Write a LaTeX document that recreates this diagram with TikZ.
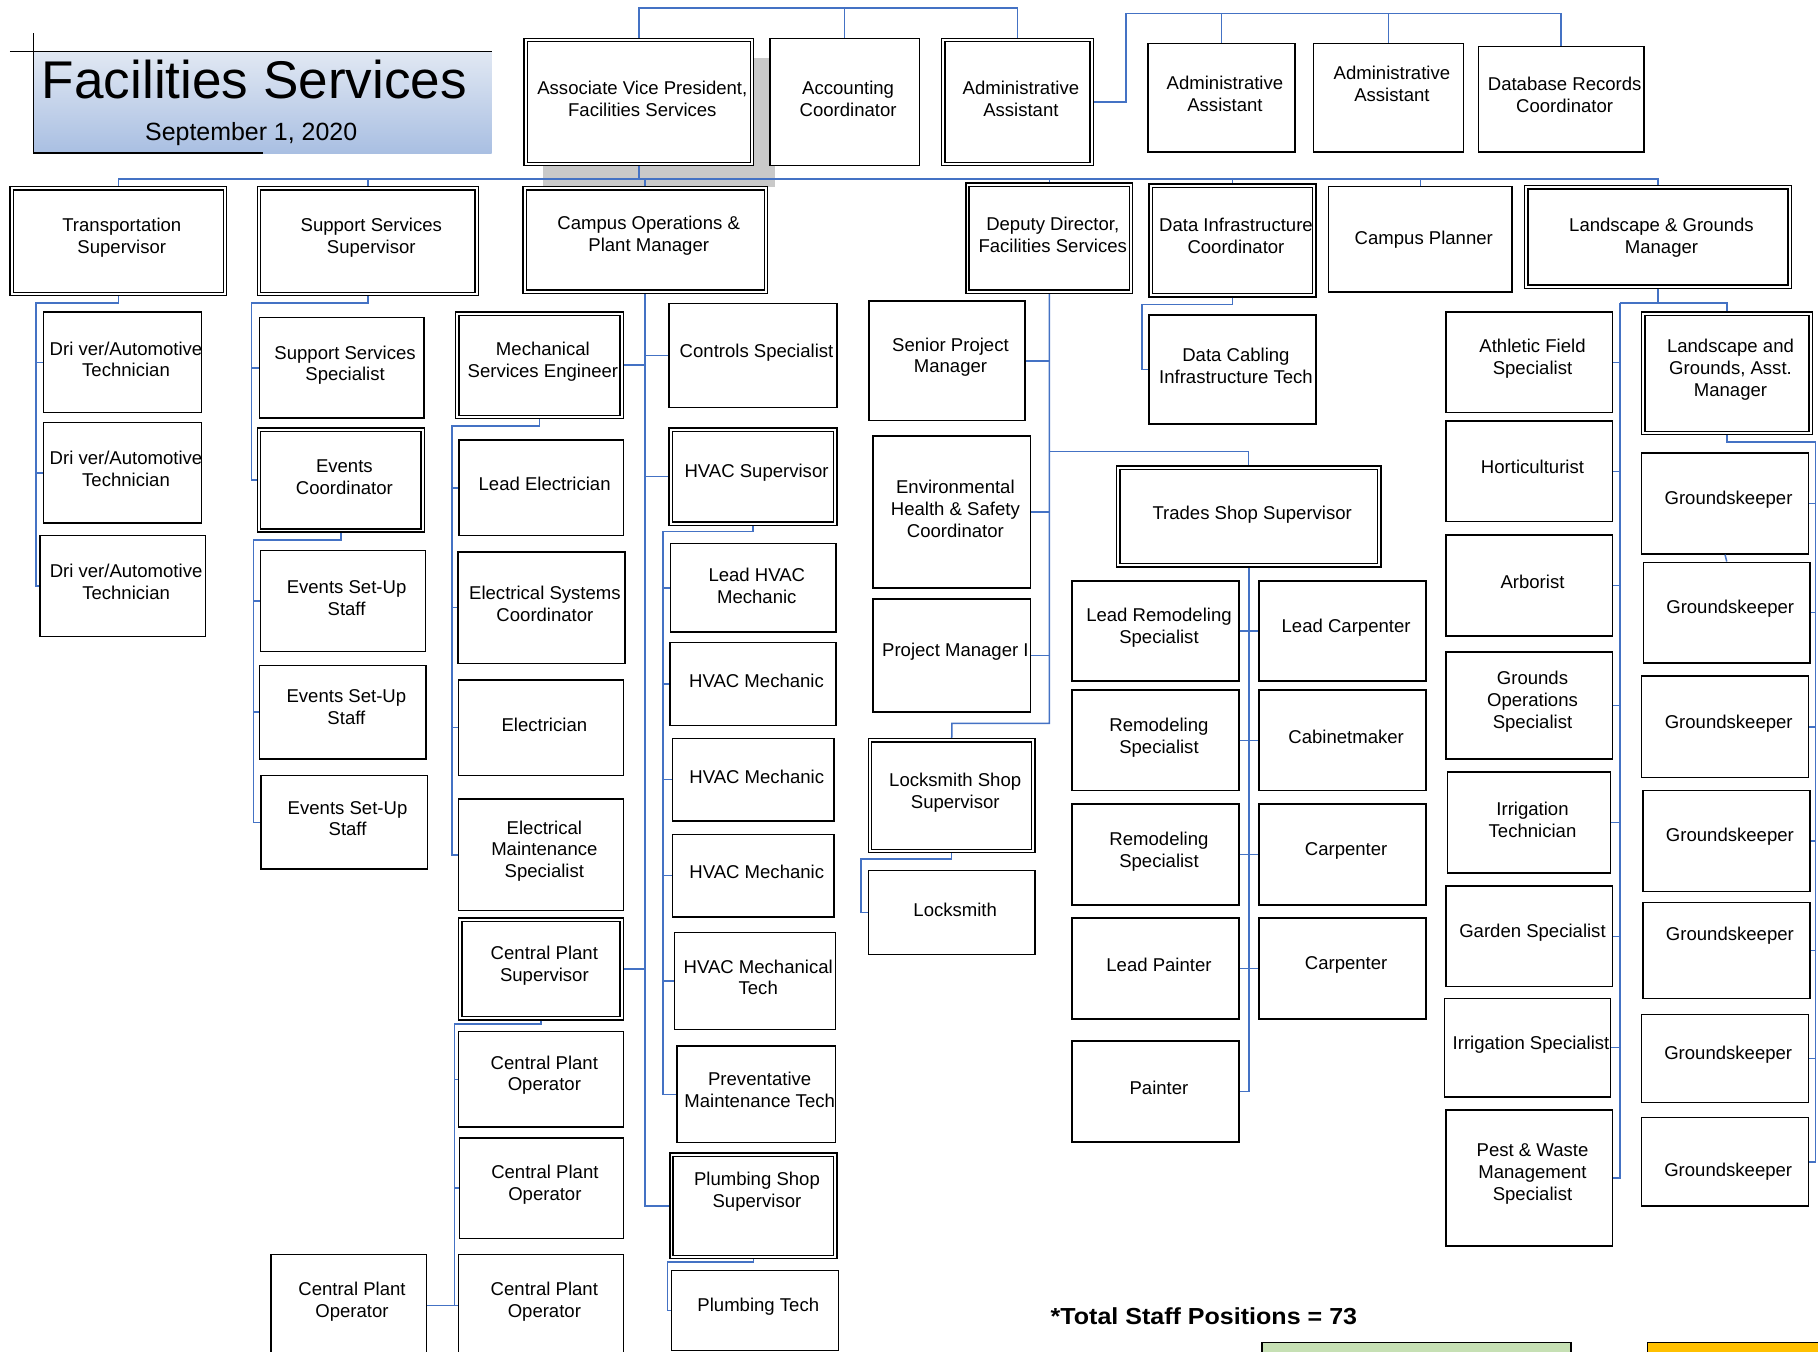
\documentclass[tikz,border=0pt]{standalone}
\usepackage{fontspec}
\setmainfont{Liberation Sans}
\definecolor{connblue}{HTML}{4472C4}
\definecolor{titletop}{HTML}{E1E8F3}
\definecolor{titlebot}{HTML}{A9BFE2}
\definecolor{shadowgray}{HTML}{C9C9C9}
\definecolor{keygreen}{HTML}{C6E0B4}
\definecolor{keyorange}{HTML}{FFC000}
\tikzset{
  orgb/.style={draw=black, fill=white, line width=1.2pt, inner sep=0pt, rectangle},
  bord/.style={draw=black, line width=1.2pt},
  lbl/.style={font=\fontsize{16}{18.8}\selectfont, align=center, inner sep=0pt, xshift=3pt},
  conn/.style={draw=connblue, line width=1.3pt},
}
\newcommand{\orgbox}[7]{%
  \node[orgb, minimum width={#4-#2}, minimum height={#5-#3}] (#1) at ({(#2+#4)/2},{(#3+#5)/2}) {};
  \node[lbl] (#1t) at ({(#2+#4)/2},#6) {#7};}
\newcommand{\orgdbox}[7]{%
  \orgbox{#1}{#2}{#3}{#4}{#5}{#6}{#7}%
  \draw[bord] ([xshift=3.5pt,yshift=-3.5pt]#1.north west) rectangle ([xshift=-3.5pt,yshift=3.5pt]#1.south east);}
\begin{document}
\begin{tikzpicture}[x=1pt,y=-1pt]
\useasboundingbox (0,0) rectangle (1568,1166);
% shadow behind AVP
\fill[shadowgray] (468,50) rectangle (668,161);
% title
\shade[top color=titletop, bottom color=titlebot] (28.8,44.6) rectangle (424,132);
\draw[line width=1pt] (8.6,44.6) -- (424,44.6);
\draw[line width=1pt] (28.8,28.8) -- (28.8,132) -- (227,132);
\node[anchor=base west, inner sep=0pt, font=\fontsize{45.8}{50}\selectfont] (title) at (36,85) {Facilities Services};
\node[anchor=base west, inner sep=0pt, font=\fontsize{21.5}{24}\selectfont] (date) at (125,121) {September 1, 2020};
% top row
\orgdbox{avp}{452}{33}{650}{143}{85}{Associate Vice President,\\Facilities Services}
\orgbox{acc}{664}{33}{793}{143}{85}{Accounting\\Coordinator}
\orgdbox{aa1}{812}{33}{943}{143}{85}{Administrative\\Assistant}
\orgbox{aa2}{990}{37.5}{1117}{131}{81}{Administrative\\Assistant}
\orgbox{aa3}{1133}{37.5}{1262}{131}{72}{Administrative\\Assistant}
\orgbox{drc}{1275}{40}{1418}{131}{82}{Database Records\\Coordinator}
% level 2
\orgdbox{ts}{8.6}{161}{195.5}{255}{205}{Transportation\\Supervisor}
\orgdbox{sss}{222}{161}{412.5}{255}{205}{Support Services\\Supervisor}
\orgdbox{cop}{451}{161}{662}{253}{203.5}{Campus Operations \&\\Plant Manager}
\orgdbox{dd}{833}{158}{977}{253}{202.5}{Deputy Director,\\Facilities Services}
\orgdbox{dic}{991}{158.7}{1135}{256}{203.5}{Data Infrastructure\\Coordinator}
\orgbox{cp}{1146}{160.7}{1304}{252}{207}{Campus Planner}
\orgdbox{lgm}{1315}{160}{1545}{248.6}{205}{Landscape \& Grounds\\Manager}
% transportation
\orgbox{dr1}{37.4}{269}{174}{356}{310}{Dri ver/Automotive\\Technician}
\orgbox{dr2}{37.4}{364.6}{174}{451}{404.5}{Dri ver/Automotive\\Technician}
\orgbox{dr3}{34.5}{462}{177}{549}{502}{Dri ver/Automotive\\Technician}
% support services
\orgbox{sssp}{223.6}{274}{365.7}{360.5}{315}{Support Services\\Specialist}
\orgdbox{ec}{222}{369}{366}{459}{411.5}{Events\\Coordinator}
\orgbox{esu1}{224.8}{475}{367}{562}{516}{Events Set-Up\\Staff}
\orgbox{esu2}{224}{574}{367.5}{654.6}{610}{Events Set-Up\\Staff}
\orgbox{esu3}{225}{669}{368.5}{749.5}{706}{Events Set-Up\\Staff}
% campus operations
\orgdbox{mse}{393}{269}{537.5}{361}{312}{Mechanical\\Services Engineer}
\orgbox{ctl}{577}{262}{722}{351.6}{304}{Controls Specialist}
\orgdbox{hvs}{577}{369}{722}{453}{407.7}{HVAC Supervisor}
\orgbox{le}{396}{379.5}{537.5}{462}{417.5}{Lead Electrician}
\orgbox{esc}{395}{476}{539}{572}{521}{Electrical Systems\\Coordinator}
\orgbox{elc}{395.4}{586.5}{537.6}{668.6}{625.5}{Electrician}
\orgbox{ems}{395.4}{689}{537.6}{785.5}{734}{Electrical\\Maintenance\\Specialist}
\orgdbox{cps}{395.4}{791.8}{537.6}{879.7}{832.6}{Central Plant\\Supervisor}
\orgbox{cpo1}{395.4}{889.7}{537.6}{972}{927.4}{Central Plant\\Operator}
\orgbox{cpo2}{396.3}{981.6}{537.6}{1068}{1021.5}{Central Plant\\Operator}
\orgbox{cpo3}{395.4}{1082}{537.6}{1170}{1122.4}{Central Plant\\Operator}
\orgbox{cpo4}{233.6}{1082}{367.6}{1170}{1122.4}{Central Plant\\Operator}
\orgbox{lhm}{578.5}{469}{721}{545}{505}{Lead HVAC\\Mechanic}
\orgbox{hm1}{578}{554}{721}{625.6}{587.5}{HVAC Mechanic}
\orgbox{hm2}{580}{637}{719.4}{708}{670}{HVAC Mechanic}
\orgbox{hm3}{580}{719.6}{719.4}{791}{751.8}{HVAC Mechanic}
\orgbox{hmt}{581.5}{804}{720.4}{888}{843}{HVAC Mechanical\\Tech}
\orgbox{pmt}{584}{902}{720.4}{985.6}{940}{Preventative\\Maintenance Tech}
\orgdbox{pss}{577.7}{994.6}{722}{1085.5}{1028}{Plumbing Shop\\Supervisor}
\orgbox{pt}{579}{1095.6}{723}{1165}{1127}{Plumbing Tech}
% deputy director
\orgbox{spm}{749.5}{259.7}{884}{362.9}{308}{Senior Project\\Manager}
\orgbox{ehs}{753}{376}{889}{507}{439}{Environmental\\Health \& Safety\\Coordinator}
\orgbox{pm1}{753}{516.7}{889}{614}{562.4}{Project Manager I}
\orgdbox{lss}{749}{637}{892.7}{735.4}{683.6}{Locksmith Shop\\Supervisor}
\orgbox{lsm}{749}{751}{892.7}{823}{785}{Locksmith}
\orgdbox{tss}{963}{402}{1191}{489}{443.6}{Trades Shop Supervisor}
\orgbox{lrs}{924.6}{501}{1068.6}{587.4}{541.4}{Lead Remodeling\\Specialist}
\orgbox{rs1}{924.6}{595}{1068.6}{682}{636}{Remodeling\\Specialist}
\orgbox{rs2}{924.6}{693.5}{1068.6}{780.6}{734.6}{Remodeling\\Specialist}
\orgbox{lp}{924.6}{791.8}{1068.6}{879}{832}{Lead Painter}
\orgbox{pn}{924.6}{898}{1068.6}{985}{938.5}{Painter}
\orgbox{lc}{1086}{501}{1230}{587.4}{541.6}{Lead Carpenter}
\orgbox{cab}{1086}{595}{1230}{682}{635.3}{Cabinetmaker}
\orgbox{cr1}{1086}{693.5}{1230}{780.6}{734}{Carpenter}
\orgbox{cr2}{1086}{791.8}{1230}{879}{832}{Carpenter}
% data infrastructure
\orgbox{dcit}{991}{271.7}{1135}{365.7}{315.7}{Data Cabling\\Infrastructure Tech}
% landscape
\orgbox{afs}{1247}{269}{1390.5}{356}{309.6}{Athletic Field\\Specialist}
\orgbox{hort}{1247}{363}{1390.5}{450}{403}{Horticulturist}
\orgbox{arb}{1247}{461.5}{1390.5}{548.6}{502}{Arborist}
\orgbox{gos}{1247}{562.4}{1390.5}{654.6}{605}{Grounds\\Operations\\Specialist}
\orgbox{irt}{1248.5}{666}{1389}{753}{707}{Irrigation\\Technician}
\orgbox{gs}{1247}{764}{1390.5}{851}{804.6}{Garden Specialist}
\orgbox{irs}{1246}{861}{1389}{946}{901.3}{Irrigation Specialist}
\orgbox{pw}{1247}{957.4}{1390.5}{1074.7}{1012.7}{Pest \& Waste\\Management\\Specialist}
\orgdbox{lgam}{1416}{269}{1563}{375}{319}{Landscape and\\Grounds, Asst.\\Manager}
\orgbox{g1}{1416}{390.8}{1559.6}{477.8}{431}{Groundskeeper}
\orgbox{g2}{1417.6}{484.9}{1561}{571.9}{525}{Groundskeeper}
\orgbox{g3}{1416}{583}{1560}{670.8}{624}{Groundskeeper}
\orgbox{g4}{1417}{682}{1561}{769}{722}{Groundskeeper}
\orgbox{g5}{1417}{778.5}{1561}{861}{807}{Groundskeeper}
\orgbox{g6}{1415.5}{875}{1559.6}{951}{909.7}{Groundskeeper}
\orgbox{g7}{1415.5}{964}{1559.6}{1040}{1010.8}{Groundskeeper}
% ---------------- connectors ----------------
\coordinate (topbus) at (0,7);
\coordinate (aaR) at (971,11.6);
\coordinate (bus2) at (0,154.5);
\draw[conn] (avp.north) -- (avp.north |- topbus) -- (aa1.north |- topbus) -- (aa1.north);
\draw[conn] (acc.north) -- (acc.north |- topbus);
\draw[conn] (aa1.east) -| (aaR) -- (aaR -| drc.north) -- (drc.north);
\draw[conn] (aa2.north) -- (aa2.north |- aaR);
\draw[conn] (aa3.north) -- (aa3.north |- aaR);
\draw[conn, line width=2.2pt] (avp.south) -- (avp.south |- bus2);
\draw[conn] (ts.north) -- (ts.north |- bus2) -- (lgm.north |- bus2) -- (lgm.north);
\foreach \n in {sss,cop,dd,dic,cp} {\draw[conn] (\n.north) -- (\n.north |- bus2);}
% transportation
\coordinate (trR) at (31,261.5);
\draw[conn] (ts.south) |- (trR) |- (dr3.west);
\foreach \n in {dr1,dr2} {\draw[conn] (\n.west -| trR) -- (\n.west);}
% support
\coordinate (ssR) at (217,261.5);
\draw[conn] (sss.south) |- (ssR) |- (ec.west);
\draw[conn] (sssp.west -| ssR) -- (sssp.west);
\coordinate (ecR) at (218.5,465.8);
\draw[conn] (ec.south) |- (ecR) |- (esu3.west);
\foreach \n in {esu1,esu2} {\draw[conn] (\n.west -| ecR) -- (\n.west);}
% campus operations
\draw[conn] (cop.south) -- (cop.south |- pss.west) -- (pss.west);
\foreach \n in {mse,cps} {\draw[conn] (\n.east) -- (\n.east -| cop.south);}
\foreach \n in {ctl,hvs} {\draw[conn] (\n.west -| cop.south) -- (\n.west);}
\coordinate (mseR) at (390,367.5);
\draw[conn] (mse.south) |- (mseR) |- (ems.west);
\foreach \n in {le,esc,elc} {\draw[conn] (\n.west -| mseR) -- (\n.west);}
\coordinate (cpsR) at (392,883);
\draw[conn] (cps.south) |- (cpsR) |- (cpo3.west);
\foreach \n in {cpo1,cpo2} {\draw[conn] (\n.west -| cpsR) -- (\n.west);}
\draw[conn] (cpo4.east) -- (cpo4.east -| cpsR);
\coordinate (hvR) at (572,458.6);
\draw[conn] (hvs.south) |- (hvR) |- (pmt.west);
\foreach \n in {lhm,hm1,hm2,hm3,hmt} {\draw[conn] (\n.west -| hvR) -- (\n.west);}
\coordinate (psR) at (575.8,1088.6);
\draw[conn] (pss.south) |- (psR) |- (pt.west);
% deputy director
\coordinate (ddB) at (821,624);
\coordinate (tsB) at (905,389.3);
\draw[conn] (dd.south) |- (ddB) -- (lss.north);
\draw[conn] (tsB) -| (tss.north);
\foreach \n in {spm,ehs,pm1} {\draw[conn] (\n.east) -- (\n.east -| dd.south);}
\coordinate (lsR) at (742.6,741);
\draw[conn] (lss.south) |- (lsR) |- (lsm.west);
% data infrastructure
\coordinate (dcR) at (985,262.7);
\draw[conn] (dic.south) |- (dcR) |- (dcit.west);
% trades
\draw[conn, line width=1.8pt] (tss.south) -- (tss.south |- pn.east);
\draw[conn] (tss.south |- pn.east) -- (pn.east);
\draw[conn] (lrs.east) -- (lc.west);
\draw[conn] (rs1.east) -- (cab.west);
\draw[conn] (rs2.east) -- (cr1.west);
\draw[conn] (lp.east) -- (cr2.west);
% landscape
\coordinate (lgB) at (1397,261.4);
\draw[conn] (lgm.south) -- (lgm.south |- lgB);
\draw[conn] (lgB) |- (pw.east);
\draw[conn] (lgB) -| (lgam.north);
\foreach \n in {afs,hort,arb,gos,irt,gs,irs} {\draw[conn] (\n.east) -- (\n.east -| lgB);}
\coordinate (gR) at (1566,381);
\draw[conn] (lgam.south) |- (gR) |- (g7.east);
\foreach \n in {g1,g2,g3,g4,g5,g6} {\draw[conn] (\n.east) -- (\n.east -| gR);}
\draw[conn] (g1.south) -- (g2.north);
% footer
\node[anchor=base west, inner sep=0pt, font=\bfseries\fontsize{20}{22}\selectfont, xscale=1.08] (total) at (906,1142) {*Total Staff Positions = 73};
\draw[line width=1pt, fill=keygreen] (1088.5,1158) rectangle (1355,1180);
\draw[line width=1pt, fill=keyorange] (1420.6,1158) rectangle (1580,1180);
\end{tikzpicture}
\end{document}
